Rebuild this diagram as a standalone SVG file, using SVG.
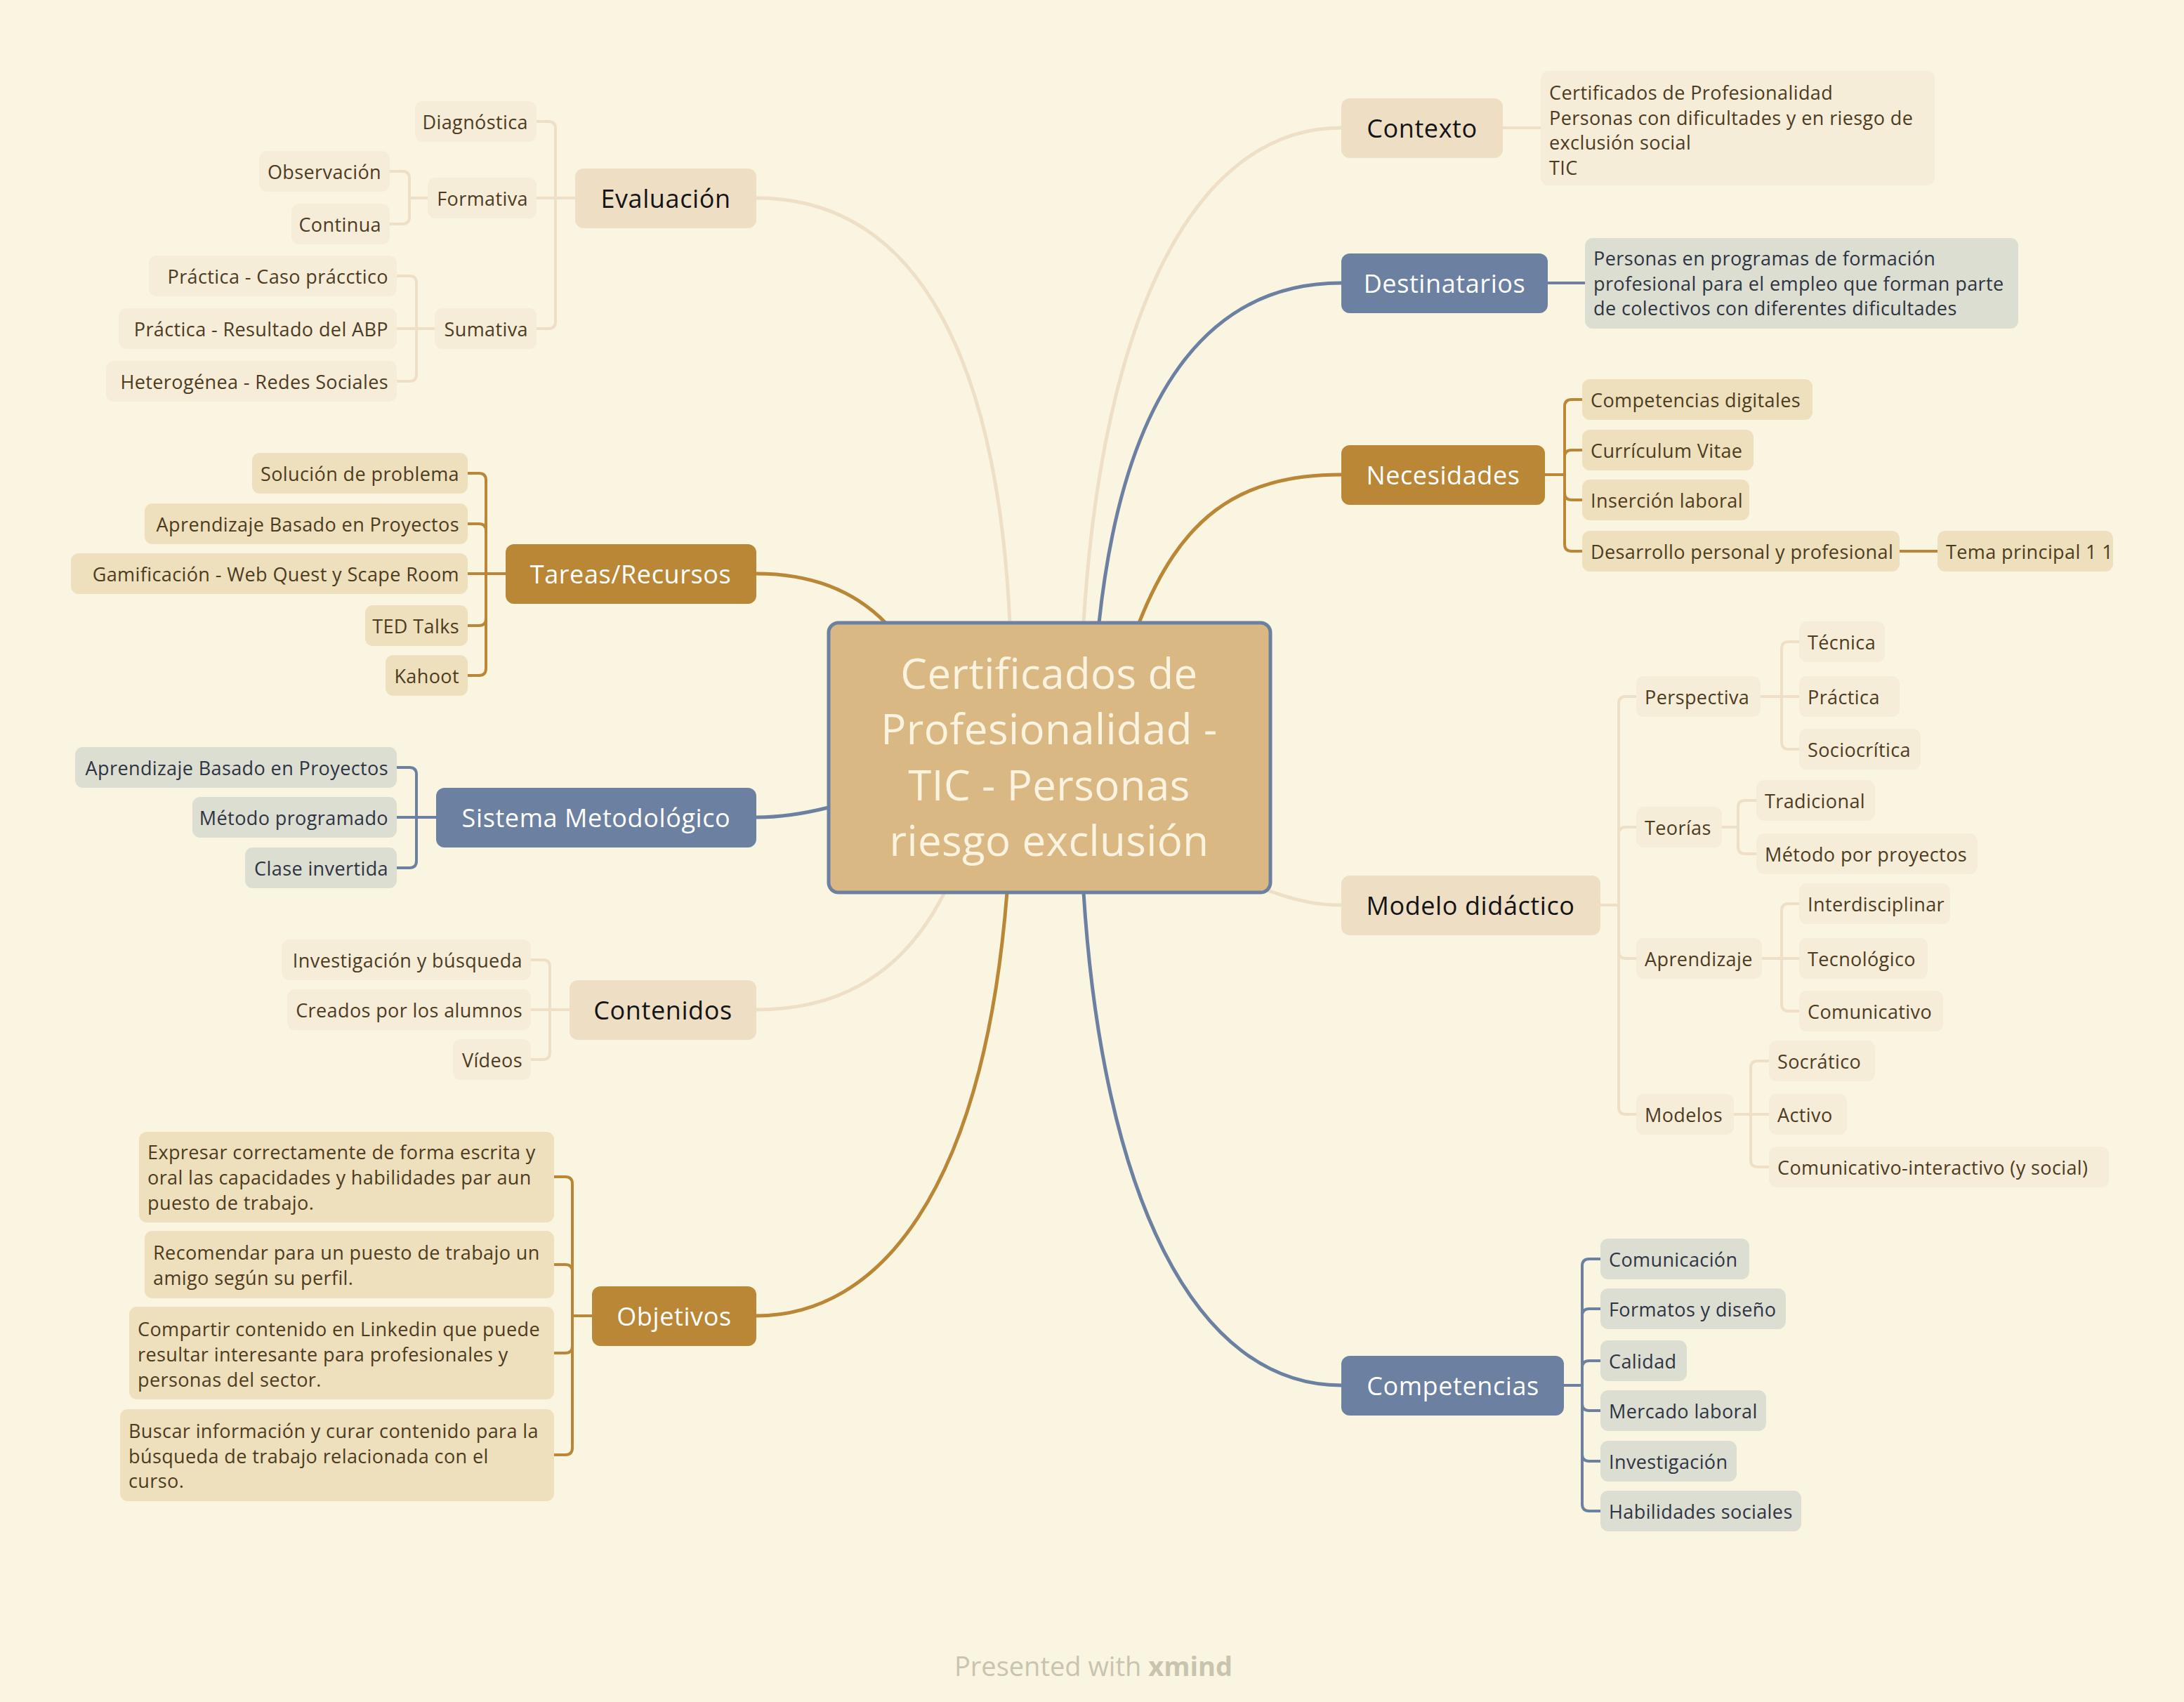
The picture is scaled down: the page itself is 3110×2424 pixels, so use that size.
<svg xmlns="http://www.w3.org/2000/svg" width="3110" height="2424" viewBox="0 0 3110 2424">
<style>
.mB{fill:#EDDEC4}.mG{fill:#B98736}.mU{fill:#6C80A1}
.sB{fill:#F5EDD8}.sG{fill:#EEE0BC}.sU{fill:#DDDED2}
text{font-family:"Open Sans","Liberation Sans",sans-serif}
.tm{font-size:36px;letter-spacing:0.6px;text-anchor:middle;dominant-baseline:central;font-weight:500}
.tD{fill:#141414}.tL{fill:#FFFFFF}
.ts{font-size:27px;letter-spacing:0.4px;dominant-baseline:central;fill:#4D3B1F}
.tU{fill:#2E3441}
.e{text-anchor:end}
.c{fill:none;stroke-linecap:round}
.cB{stroke:#EEE0C6}.cG{stroke:#B98736}.cU{stroke:#6C80A1}
.w5{stroke-width:5}.w4{stroke-width:4}
.ct{font-size:60px;letter-spacing:0.4px;fill:#FAF3DF;text-anchor:middle;dominant-baseline:central;font-weight:500}
</style>
<rect width="3110" height="2424" fill="#FAF5E1"/>
<g id="connectors">
<g class="c w5">
<path class="cB" d="M1077,282 C1300,282 1420,500 1438,887"/>
<path class="cB" d="M1543,887 C1570,450 1700,182 1910,182"/>
<path class="cU" d="M1565,887 C1600,560 1720,403 1910,403"/>
<path class="cG" d="M1622,887 C1680,740 1760,676 1910,676"/>
<path class="cB" d="M1800,1266 C1850,1285 1880,1289 1910,1289"/>
<path class="cU" d="M1543,1271 C1570,1700 1700,1973 1910,1973"/>
<path class="cG" d="M1077,817 C1160,817 1220,845 1261,887"/>
<path class="cU" d="M1180,1150 C1140,1160 1110,1164 1077,1164"/>
<path class="cB" d="M1345,1271 C1280,1400 1180,1438 1077,1438"/>
<path class="cG" d="M1434,1271 C1400,1700 1250,1874 1077,1874"/>
</g>
<g class="c w4">
<path class="cB" d="M819,282 H764 M791,282 V183 Q791,173 781,173 H764 M791,282 V458 Q791,468 781,468 H764"/>
<path class="cB" d="M609,282 H583 M583,282 V254 Q583,244 573,244 H555 M583,282 V309 Q583,319 573,319 H555"/>
<path class="cB" d="M619,468 H565 M593,468 V403 Q593,393 583,393 H565 M593,468 V533 Q593,543 583,543 H565"/>
<path class="cG" d="M720,817 H666 M692,817 V684 Q692,674 682,674 H666 M692,817 V756 Q692,746 682,746 H666 M692,817 V881 Q692,891 682,891 H666 M692,817 V952 Q692,962 682,962 H666"/>
<path class="cU" d="M621,1164 H565 M593,1164 V1103 Q593,1093 583,1093 H565 M593,1164 V1226 Q593,1236 583,1236 H565"/>
<path class="cB" d="M811,1438 H756 M783,1438 V1377 Q783,1367 773,1367 H756 M783,1438 V1499 Q783,1509 773,1509 H756"/>
<path class="cG" d="M843,1874 H815 M815,1874 V1686 Q815,1676 805,1676 H789 M815,1874 V1811 Q815,1801 805,1801 H789 M815,1874 V1917 Q815,1927 805,1927 H789 M815,1874 V2062 Q815,2072 805,2072 H789"/>
<path class="cB" d="M2140,182 H2194"/>
<path class="cU" d="M2204,403 H2257"/>
<path class="cG" d="M2200,676 H2228 M2228,676 V579 Q2228,569 2238,569 H2253 M2228,676 V651 Q2228,641 2238,641 H2253 M2228,676 V702 Q2228,712 2238,712 H2253 M2228,676 V775 Q2228,785 2238,785 H2253 M2705,785 H2759"/>
<path class="cB" d="M2279,1289 H2305 M2305,1289 V1002 Q2305,992 2315,992 H2330 M2305,1289 V1188 Q2305,1178 2315,1178 H2330 M2305,1289 V1355 Q2305,1365 2315,1365 H2330 M2305,1289 V1577 Q2305,1587 2315,1587 H2330"/>
<path class="cB" d="M2507,992 H2562 M2537,992 V924 Q2537,914 2547,914 H2562 M2537,992 V1057 Q2537,1067 2547,1067 H2562"/>
<path class="cB" d="M2452,1178 H2475 M2475,1178 V1150 Q2475,1140 2485,1140 H2501 M2475,1178 V1206 Q2475,1216 2485,1216 H2501"/>
<path class="cB" d="M2509,1365 H2562 M2537,1365 V1297 Q2537,1287 2547,1287 H2562 M2537,1365 V1430 Q2537,1440 2547,1440 H2562"/>
<path class="cB" d="M2469,1587 H2519 M2493,1587 V1521 Q2493,1511 2503,1511 H2519 M2493,1587 V1652 Q2493,1662 2503,1662 H2519"/>
<path class="cU" d="M2227,1973 H2253 M2253,1973 V1803 Q2253,1793 2263,1793 H2279 M2253,1973 V1874 Q2253,1864 2263,1864 H2279 M2253,1973 V1948 Q2253,1938 2263,1938 H2279 M2253,1973 V1999 Q2253,2009 2263,2009 H2279 M2253,1973 V2071 Q2253,2081 2263,2081 H2279 M2253,1973 V2142 Q2253,2152 2263,2152 H2279"/>
</g>
</g>
<g id="central">
<rect x="1180" y="887" width="629" height="384" rx="14" fill="#D9B883" stroke="#6C80A1" stroke-width="5"/>
<text class="ct" x="1494" y="958">Certificados de</text>
<text class="ct" x="1494" y="1037">Profesionalidad -</text>
<text class="ct" x="1494" y="1117">TIC - Personas</text>
<text class="ct" x="1494" y="1196">riesgo exclusión</text>
</g>
<g id="evaluacion"><rect class="mB" x="819" y="240" width="258" height="85" rx="12"/><text class="tm tD" x="948" y="282">Evaluación</text></g>
<g id="diagnostica"><rect class="sB" x="591" y="144" width="173" height="58" rx="11"/><text class="ts e" x="752" y="173">Diagnóstica</text></g>
<g id="formativa"><rect class="sB" x="609" y="253" width="155" height="58" rx="11"/><text class="ts e" x="752" y="282">Formativa</text></g>
<g id="sumativa"><rect class="sB" x="619" y="439" width="145" height="58" rx="11"/><text class="ts e" x="752" y="468">Sumativa</text></g>
<g id="observacion"><rect class="sB" x="369" y="215" width="186" height="58" rx="11"/><text class="ts e" x="543" y="244">Observación</text></g>
<g id="continua"><rect class="sB" x="415" y="290" width="140" height="58" rx="11"/><text class="ts e" x="543" y="319">Continua</text></g>
<g id="caso"><rect class="sB" x="212" y="364" width="353" height="58" rx="11"/><text class="ts e" x="553" y="393">Práctica - Caso prácctico</text></g>
<g id="resultado"><rect class="sB" x="169" y="439" width="396" height="58" rx="11"/><text class="ts e" x="553" y="468">Práctica - Resultado del ABP</text></g>
<g id="heterogenea"><rect class="sB" x="151" y="514" width="414" height="58" rx="11"/><text class="ts e" x="553" y="543">Heterogénea - Redes Sociales</text></g>
<g id="tareas"><rect class="mG" x="720" y="775" width="357" height="85" rx="12"/><text class="tm tL" x="898" y="817">Tareas/Recursos</text></g>
<g id="solucion"><rect class="sG" x="359" y="645" width="307" height="58" rx="11"/><text class="ts e" x="654" y="674">Solución de problema</text></g>
<g id="abp1"><rect class="sG" x="206" y="717" width="460" height="58" rx="11"/><text class="ts e" x="654" y="746">Aprendizaje Basado en Proyectos</text></g>
<g id="gamificacion"><rect class="sG" x="101" y="788" width="565" height="58" rx="11"/><text class="ts e" x="654" y="817">Gamificación - Web Quest y Scape Room</text></g>
<g id="ted"><rect class="sG" x="520" y="862" width="146" height="58" rx="11"/><text class="ts e" x="654" y="891">TED Talks</text></g>
<g id="kahoot"><rect class="sG" x="549" y="933" width="117" height="58" rx="11"/><text class="ts e" x="654" y="962">Kahoot</text></g>
<g id="sistema"><rect class="mU" x="621" y="1122" width="456" height="85" rx="12"/><text class="tm tL" x="849" y="1164">Sistema Metodológico</text></g>
<g id="abp2"><rect class="sU" x="107" y="1064" width="458" height="58" rx="11"/><text class="ts tU e" x="553" y="1093">Aprendizaje Basado en Proyectos</text></g>
<g id="metodo"><rect class="sU" x="274" y="1135" width="291" height="58" rx="11"/><text class="ts tU e" x="553" y="1164">Método programado</text></g>
<g id="clase"><rect class="sU" x="349" y="1207" width="216" height="58" rx="11"/><text class="ts tU e" x="553" y="1236">Clase invertida</text></g>
<g id="contenidos"><rect class="mB" x="811" y="1396" width="266" height="85" rx="12"/><text class="tm tD" x="944" y="1438">Contenidos</text></g>
<g id="investigacion1"><rect class="sB" x="401" y="1338" width="355" height="58" rx="11"/><text class="ts e" x="744" y="1367">Investigación y búsqueda</text></g>
<g id="creados"><rect class="sB" x="409" y="1409" width="347" height="58" rx="11"/><text class="ts e" x="744" y="1438">Creados por los alumnos</text></g>
<g id="videos"><rect class="sB" x="645" y="1480" width="111" height="58" rx="11"/><text class="ts e" x="744" y="1509">Vídeos</text></g>
<g id="objetivos"><rect class="mG" x="843" y="1832" width="234" height="85" rx="12"/><text class="tm tL" x="960" y="1874">Objetivos</text></g>
<g id="obj1"><rect class="sG" x="198" y="1612" width="591" height="129" rx="11"/><text class="ts" x="210" y="1640">Expresar correctamente de forma escrita y</text><text class="ts" x="210" y="1676">oral las capacidades y habilidades par aun</text><text class="ts" x="210" y="1712">puesto de trabajo.</text></g>
<g id="obj2"><rect class="sG" x="206" y="1753" width="583" height="96" rx="11"/><text class="ts" x="218" y="1783">Recomendar para un puesto de trabajo un</text><text class="ts" x="218" y="1819">amigo según su perfil.</text></g>
<g id="obj3"><rect class="sG" x="184" y="1861" width="605" height="132" rx="11"/><text class="ts" x="196" y="1892">Compartir contenido en Linkedin que puede</text><text class="ts" x="196" y="1928">resultar interesante para profesionales y</text><text class="ts" x="196" y="1964">personas del sector.</text></g>
<g id="obj4"><rect class="sG" x="171" y="2007" width="618" height="131" rx="11"/><text class="ts" x="183" y="2037">Buscar información y curar contenido para la</text><text class="ts" x="183" y="2073">búsqueda de trabajo relacionada con el</text><text class="ts" x="183" y="2108">curso.</text></g>
<g id="contexto"><rect class="mB" x="1910" y="140" width="230" height="85" rx="12"/><text class="tm tD" x="2025" y="182">Contexto</text></g>
<g id="contexto-det"><rect class="sB" x="2194" y="101" width="561" height="163" rx="11"/><text class="ts" x="2206" y="131">Certificados de Profesionalidad</text><text class="ts" x="2206" y="167">Personas con dificultades y en riesgo de</text><text class="ts" x="2206" y="202">exclusión social</text><text class="ts" x="2206" y="238">TIC</text></g>
<g id="destinatarios"><rect class="mU" x="1910" y="361" width="294" height="85" rx="12"/><text class="tm tL" x="2057" y="403">Destinatarios</text></g>
<g id="destinatarios-det"><rect class="sU" x="2257" y="339" width="617" height="129" rx="11"/><text class="ts tU" x="2269" y="367">Personas en programas de formación</text><text class="ts tU" x="2269" y="403">profesional para el empleo que forman parte</text><text class="ts tU" x="2269" y="438">de colectivos con diferentes dificultades</text></g>
<g id="necesidades"><rect class="mG" x="1910" y="634" width="290" height="85" rx="12"/><text class="tm tL" x="2055" y="676">Necesidades</text></g>
<g id="compdig"><rect class="sG" x="2253" y="540" width="328" height="58" rx="11"/><text class="ts" x="2265" y="569">Competencias digitales</text></g>
<g id="cv"><rect class="sG" x="2253" y="612" width="244" height="58" rx="11"/><text class="ts" x="2265" y="641">Currículum Vitae</text></g>
<g id="insercion"><rect class="sG" x="2253" y="683" width="238" height="58" rx="11"/><text class="ts" x="2265" y="712">Inserción laboral</text></g>
<g id="desarrollo"><rect class="sG" x="2253" y="756" width="452" height="58" rx="11"/><text class="ts" x="2265" y="785">Desarrollo personal y profesional</text></g>
<g id="tema"><rect class="sG" x="2759" y="756" width="250" height="58" rx="11"/><text class="ts" x="2771" y="785">Tema principal 1 1</text></g>
<g id="modelo"><rect class="mB" x="1910" y="1247" width="369" height="85" rx="12"/><text class="tm tD" x="2094" y="1289">Modelo didáctico</text></g>
<g id="perspectiva"><rect class="sB" x="2330" y="963" width="177" height="58" rx="11"/><text class="ts" x="2342" y="992">Perspectiva</text></g>
<g id="tecnica"><rect class="sB" x="2562" y="885" width="122" height="58" rx="11"/><text class="ts" x="2574" y="914">Técnica</text></g>
<g id="practica"><rect class="sB" x="2562" y="963" width="143" height="58" rx="11"/><text class="ts" x="2574" y="992">Práctica</text></g>
<g id="sociocritica"><rect class="sB" x="2562" y="1038" width="173" height="58" rx="11"/><text class="ts" x="2574" y="1067">Sociocrítica</text></g>
<g id="teorias"><rect class="sB" x="2330" y="1149" width="122" height="58" rx="11"/><text class="ts" x="2342" y="1178">Teorías</text></g>
<g id="tradicional"><rect class="sB" x="2501" y="1111" width="169" height="58" rx="11"/><text class="ts" x="2513" y="1140">Tradicional</text></g>
<g id="metodoproy"><rect class="sB" x="2501" y="1187" width="315" height="58" rx="11"/><text class="ts" x="2513" y="1216">Método por proyectos</text></g>
<g id="aprendizaje"><rect class="sB" x="2330" y="1336" width="179" height="58" rx="11"/><text class="ts" x="2342" y="1365">Aprendizaje</text></g>
<g id="interdisciplinar"><rect class="sB" x="2562" y="1258" width="215" height="58" rx="11"/><text class="ts" x="2574" y="1287">Interdisciplinar</text></g>
<g id="tecnologico"><rect class="sB" x="2562" y="1336" width="183" height="58" rx="11"/><text class="ts" x="2574" y="1365">Tecnológico</text></g>
<g id="comunicativo"><rect class="sB" x="2562" y="1411" width="205" height="58" rx="11"/><text class="ts" x="2574" y="1440">Comunicativo</text></g>
<g id="modelos"><rect class="sB" x="2330" y="1558" width="139" height="58" rx="11"/><text class="ts" x="2342" y="1587">Modelos</text></g>
<g id="socratico"><rect class="sB" x="2519" y="1482" width="151" height="58" rx="11"/><text class="ts" x="2531" y="1511">Socrático</text></g>
<g id="activo"><rect class="sB" x="2519" y="1558" width="111" height="58" rx="11"/><text class="ts" x="2531" y="1587">Activo</text></g>
<g id="cominter"><rect class="sB" x="2519" y="1633" width="484" height="58" rx="11"/><text class="ts" x="2531" y="1662">Comunicativo-interactivo (y social)</text></g>
<g id="competencias"><rect class="mU" x="1910" y="1931" width="317" height="85" rx="12"/><text class="tm tL" x="2069" y="1973">Competencias</text></g>
<g id="comunicacion"><rect class="sU" x="2279" y="1764" width="212" height="58" rx="11"/><text class="ts tU" x="2291" y="1793">Comunicación</text></g>
<g id="formatos"><rect class="sU" x="2279" y="1835" width="264" height="58" rx="11"/><text class="ts tU" x="2291" y="1864">Formatos y diseño</text></g>
<g id="calidad"><rect class="sU" x="2279" y="1909" width="123" height="58" rx="11"/><text class="ts tU" x="2291" y="1938">Calidad</text></g>
<g id="mercado"><rect class="sU" x="2279" y="1980" width="236" height="58" rx="11"/><text class="ts tU" x="2291" y="2009">Mercado laboral</text></g>
<g id="investigacion2"><rect class="sU" x="2279" y="2052" width="194" height="58" rx="11"/><text class="ts tU" x="2291" y="2081">Investigación</text></g>
<g id="habilidades"><rect class="sU" x="2279" y="2123" width="286" height="58" rx="11"/><text class="ts tU" x="2291" y="2152">Habilidades sociales</text></g>
<text x="1557" y="2372" style="font-size:38px;fill:#C8C4AE;text-anchor:middle;dominant-baseline:central">Presented with <tspan style="font-weight:bold">xmind</tspan></text>
</svg>
